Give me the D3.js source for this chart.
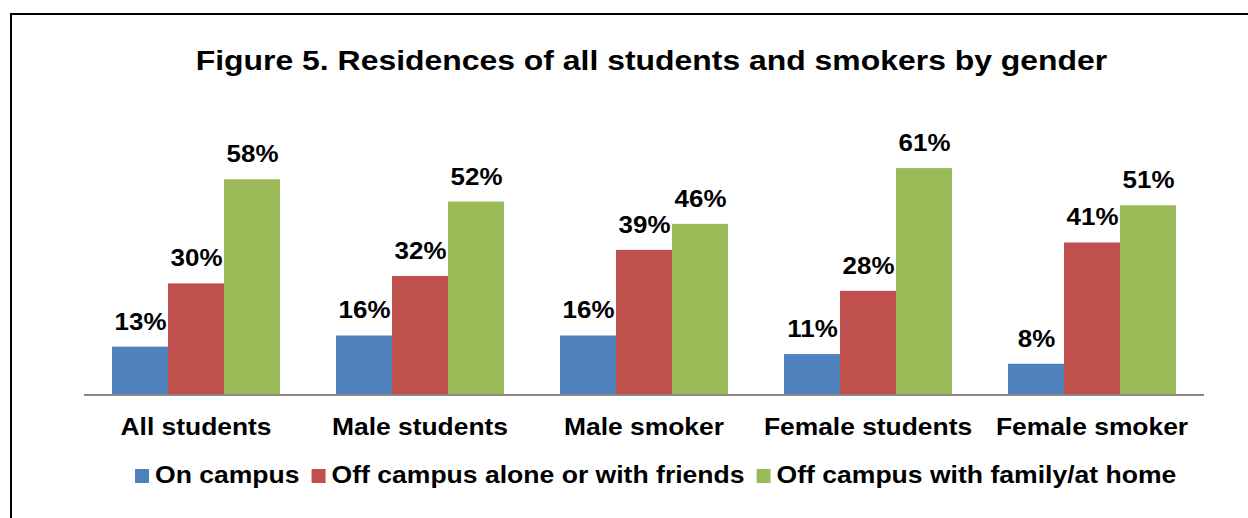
<!DOCTYPE html>
<html>
<head>
<meta charset="utf-8">
<script src="https://cdn.jsdelivr.net/npm/d3@7"></script>
<style>
  body { margin: 0; background: #fff; }
  svg { display: block; font-family: "Liberation Sans", Arial, sans-serif; font-weight: bold; }
</style>
</head>
<body>
<div id="viz"></div>
<script>
'use strict';

var categories = ['All students', 'Male students', 'Male smoker', 'Female students', 'Female smoker'];
var seriesNames = ['On campus', 'Off campus alone or with friends', 'Off campus with family/at home'];
var onCampus = [13, 16, 16, 11, 8.4];
var offAlone = [30, 32, 39, 28, 41];
var offFamily = [58, 52, 46, 61, 51];
var colors = ['#4F81BD', '#C0504D', '#9BBB59'];
var title = 'Figure 5. Residences of all students and smokers by gender';

var width = 1248,
    height = 518;
var plotLeft = 84,
    plotRight = 1204,
    baseY = 395;

var svg = d3.select('#viz').append('svg')
    .attr('width', width)
    .attr('height', height);

// the original text is a bit wider than Arial, so stretch it sideways
function stretched(sel, x, y, sx) {
    return sel.attr('transform', 'translate(' + x + ',' + y + ') scale(' + sx + ',1)');
}

// frame (runs off the right/bottom edge in the original)
svg.append('rect')
    .attr('x', 11).attr('y', 14)
    .attr('width', 1400).attr('height', 700)
    .attr('fill', 'none')
    .attr('stroke', '#000')
    .attr('stroke-width', 2);

svg.append('text')
    .call(stretched, 651.5, 70, 1.12)
    .attr('text-anchor', 'middle')
    .attr('font-size', 28.5)
    .text(title);

var series = [onCampus, offAlone, offFamily];
var rows = categories.map(function(c, i) {
    return { cat: c, values: series.map(function(s) { return s[i]; }) };
});

var x0 = d3.scaleBand()
    .domain(categories)
    .range([plotLeft, plotRight])
    .paddingInner(0.25)
    .paddingOuter(0.125);
var x1 = d3.scaleBand()
    .domain(d3.range(series.length))
    .range([0, x0.bandwidth()]);
var y = d3.scaleLinear()
    .domain([0, 70])
    .range([baseY, baseY - 260.4]);

var groups = svg.append('g').selectAll('g')
    .data(rows)
    .enter().append('g')
    .attr('transform', d => 'translate(' + x0(d.cat) + ',0)');

groups.selectAll('rect')
    .data(d => d.values)
    .enter().append('rect')
    .attr('x', (d, i) => x1(i))
    .attr('y', d => y(d))
    .attr('width', x1.bandwidth())
    .attr('height', d => baseY - y(d))
    .attr('fill', (d, i) => colors[i]);

groups.selectAll('text')
    .data(d => d.values)
    .enter().append('text')
    .each(function(d, i) {
        stretched(d3.select(this), x1(i) + x1.bandwidth() / 2 + 0.5, y(d) - 17, 1.08);
    })
    .attr('text-anchor', 'middle')
    .attr('font-size', 24)
    .text(d => Math.round(d) + '%');

// category axis
var xAxis = svg.append('g')
    .attr('transform', 'translate(0,' + baseY + ')')
    .call(d3.axisBottom(x0).tickSize(0).tickPadding(0));
xAxis.select('.domain')
    .attr('d', 'M' + plotLeft + ',0H' + plotRight)
    .attr('stroke', '#888')
    .attr('stroke-width', 2);
xAxis.selectAll('.tick text')
    .attr('y', 0)
    .attr('dy', 0)
    .call(stretched, 0, 40, 1.1)
    .attr('fill', '#000')
    .attr('font-family', '"Liberation Sans", Arial, sans-serif')
    .attr('font-weight', 'bold')
    .attr('font-size', 24);

// legend
var legend = svg.append('g');
var lx = 135;
var legendScale = 1.155;
seriesNames.forEach(function(name, i) {
    legend.append('rect')
        .attr('x', lx).attr('y', 469)
        .attr('width', 14).attr('height', 14)
        .attr('fill', colors[i]);
    var t = legend.append('text')
        .call(stretched, lx + 20, 483, legendScale)
        .attr('font-size', 23)
        .text(name);
    lx += 20 + t.node().getComputedTextLength() * legendScale + 12;
});
</script>
</body>
</html>
